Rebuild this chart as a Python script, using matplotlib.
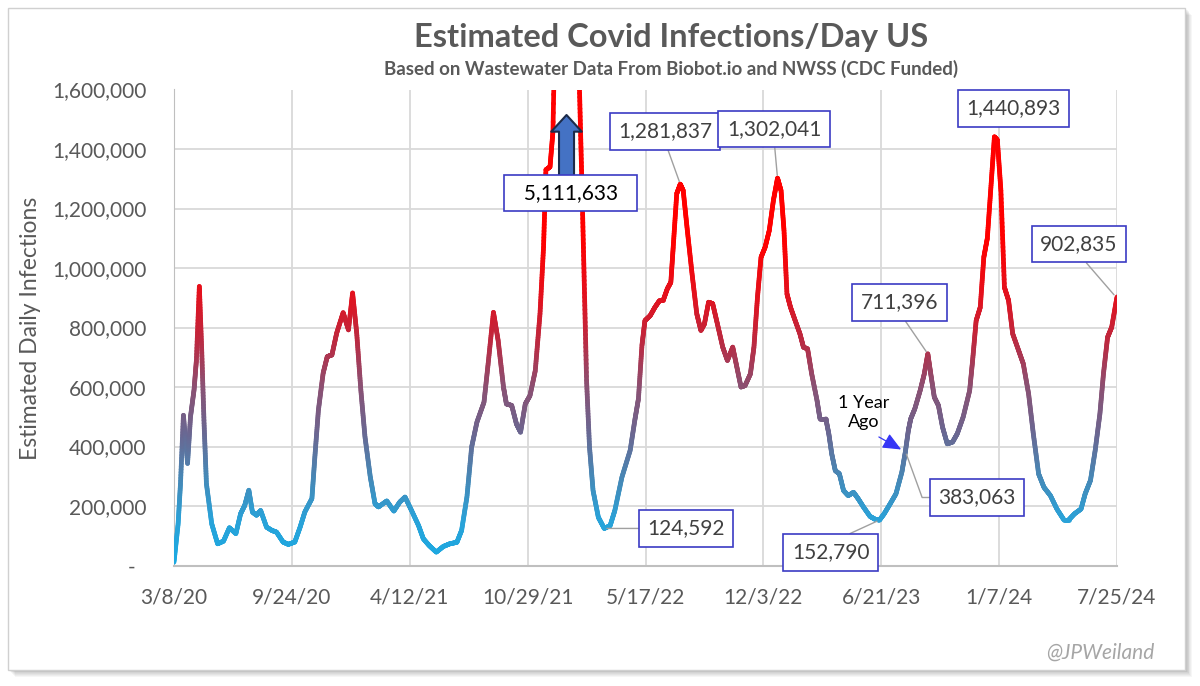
import datetime as dt
import numpy as np
import matplotlib
matplotlib.use('Agg')
import matplotlib.pyplot as plt
import matplotlib.dates as mdates
from matplotlib.collections import LineCollection
from matplotlib.colors import LinearSegmentedColormap, Normalize
from matplotlib.patches import Rectangle
from matplotlib.ticker import FuncFormatter

plt.rcParams['font.family'] = ['Lato', 'DejaVu Sans']

# ---- data ----
start_date = dt.date(2020, 3, 8)

# days since 3/8/20
days = [0, 7, 11, 16, 23, 28, 34, 38, 43, 47, 51, 55, 64, 74, 84, 94, 105, 113, 120, 127,
        133, 140, 147, 157, 166, 174, 185, 194, 205, 214, 222, 234, 239, 245, 253, 260, 268,
        276, 287, 296, 303, 310, 317, 324, 333, 341, 347, 361, 373, 383, 392, 403, 415, 423,
        433, 445, 457, 468, 480, 488, 497, 505, 514, 526, 533, 542, 550, 559, 564, 573, 581,
        588, 596, 604, 613, 621, 627, 631, 638, 643, 650, 658, 666, 674, 681, 688, 692, 696,
        700, 705, 711, 720, 730, 740, 748, 760, 774, 782, 788, 794, 799, 808, 816, 824, 830,
        837, 843, 847, 853, 859, 864, 871, 879, 887, 894, 900, 907, 914, 922, 931, 939, 948,
        955, 962, 969, 978, 984, 990, 996, 1003, 1010, 1017, 1024, 1030, 1035, 1040, 1046,
        1054, 1062, 1068, 1075, 1082, 1091, 1096, 1106, 1111, 1116, 1122, 1129, 1136, 1144,
        1153, 1161, 1170, 1181, 1190, 1197, 1205, 1215, 1225, 1235, 1241, 1246, 1250, 1257,
        1266, 1273, 1279, 1284, 1290, 1297, 1304, 1312, 1321, 1329, 1339, 1350, 1355, 1361,
        1368, 1374, 1380, 1386, 1392, 1397, 1403, 1409, 1416, 1423, 1433, 1441, 1450, 1458,
        1467, 1476, 1487, 1498, 1510, 1518, 1528, 1539, 1546, 1555, 1563, 1571, 1577, 1584,
        1591, 1600]

infections = [11000, 140000, 275000, 505000, 343000, 500000, 590000, 690000, 938000, 725000,
              478000, 275000, 140000, 73000, 82000, 127000, 107000, 174000, 202000, 253000,
              180000, 169000, 185000, 129000, 118000, 112000, 79000, 71000, 79000, 129000,
              180000, 225000, 365000, 522000, 646000, 702000, 708000, 781000, 850000, 792000,
              916000, 781000, 590000, 433000, 298000, 208000, 197000, 217000, 183000, 213000,
              230000, 185000, 134000, 90000, 67000, 45000, 64000, 73000, 78000, 118000, 230000,
              398000, 482000, 549000, 678000, 851000, 756000, 600000, 543000, 538000, 476000,
              448000, 543000, 571000, 655000, 846000, 1070000, 1330000, 1340000, 1460000,
              2200000, 3600000, 5111633, 4300000, 2900000, 1600000, 1290000, 958000, 622000,
              398000, 252000, 162000, 124592, 134000, 185000, 297000, 387000, 490000, 560000,
              740000, 823000, 840000, 868000, 891000, 891000, 930000, 952000, 1070000, 1250000,
              1281837, 1260000, 1126000, 980000, 846000, 790000, 812000, 885000, 880000, 812000,
              734000, 689000, 734000, 667000, 600000, 605000, 644000, 734000, 902000, 1036000,
              1070000, 1126000, 1227000, 1302041, 1260000, 1126000, 913000, 868000, 823000,
              779000, 734000, 728000, 644000, 555000, 493000, 493000, 443000, 375000, 319000,
              308000, 252000, 235000, 246000, 224000, 196000, 165000, 155000, 152790, 174000,
              207000, 241000, 314000, 383063, 454000, 493000, 527000, 588000, 644000, 711396,
              644000, 566000, 538000, 465000, 409000, 415000, 443000, 499000, 588000, 689000,
              823000, 868000, 1036000, 1100000, 1270000, 1440893, 1430000, 1260000, 935000,
              891000, 779000, 723000, 678000, 577000, 443000, 308000, 263000, 235000, 190000,
              153000, 153000, 174000, 190000, 241000, 286000, 387000, 510000, 644000, 767000,
              801000, 902835]

# labelled points: (day, value, label day, label value)
callouts = [
    (859, 1281837, 833, 1458800),
    (1024, 1302041, 1018.7, 1467200),
    (1598, 902835, 1535, 1080700),
    (1279, 711396, 1231.6, 884000),
]

tick_days = [0, 200, 400, 600, 800, 1000, 1200, 1400, 1600]
y_ticks = [0, 200000, 400000, 600000, 800000, 1000000, 1200000, 1400000, 1600000]

title = 'Estimated Covid Infections/Day US'
subtitle = 'Based on Wastewater Data From Biobot.io and NWSS (CDC Funded)'

# ---- figure ----
grey_txt = '#595959'
box_edge = '#3B3BC4'

fig = plt.figure(figsize=(12, 6.86), dpi=100)

# card frame with a soft shadow
for k in range(8, 0, -1):
    fig.patches.append(Rectangle((8 / 1200 + k * 0.0007, 0.0233 - k * 0.0012), 0.981, 0.965,
                                 transform=fig.transFigure, facecolor='#000000',
                                 edgecolor='none', alpha=0.035, zorder=-3))
fig.patches.append(Rectangle((8 / 1200, 0.0233), 0.981, 0.965, transform=fig.transFigure,
                             facecolor='white', edgecolor='#D0D0D0', lw=1, zorder=-2))

ax = fig.add_axes([174 / 1200, 1 - 565.5 / 686, (1117 - 174) / 1200, (565.5 - 89.5) / 686])
ax.set_facecolor('none')
ax.set_zorder(2)

x = np.array([mdates.date2num(start_date + dt.timedelta(days=d)) for d in days])
y = np.array(infections, dtype=float)

# gradient-coloured line: split each segment so colour follows the height
pts = []
for i in range(len(x) - 1):
    t = np.linspace(0, 1, 25)
    xs = x[i] + (x[i + 1] - x[i]) * t
    ys = y[i] + (y[i + 1] - y[i]) * t
    pts.append(np.column_stack([xs, ys]))
pts = np.vstack(pts)
segs = np.stack([pts[:-1], pts[1:]], axis=1)

cmap = LinearSegmentedColormap.from_list('covid', [
    (0.00, '#19AAE3'), (0.14, '#2AA2D8'), (0.27, '#4788B6'), (0.41, '#6C6690'),
    (0.55, '#8C5072'), (0.68, '#BA2B43'), (0.82, '#E2121F'), (1.00, '#FF0000')])
lc = LineCollection(segs, cmap=cmap, norm=Normalize(0, 1100000), linewidth=3.4,
                    capstyle='round', joinstyle='round', zorder=3)
lc.set_array((segs[:, 0, 1] + segs[:, 1, 1]) / 2)
ax.add_collection(lc)

ax.set_xlim(mdates.date2num(start_date), mdates.date2num(start_date + dt.timedelta(days=1600)))
ax.set_ylim(0, 1600000)

tick_dates = [start_date + dt.timedelta(days=d) for d in tick_days]
ax.set_xticks([mdates.date2num(d) for d in tick_dates])
ax.set_xticklabels([f'{d.month}/{d.day}/{d.year % 100}' for d in tick_dates])
ax.set_yticks(y_ticks)
ax.yaxis.set_major_formatter(FuncFormatter(lambda v, p: '-  ' if v == 0 else f'{v:,.0f}'))

ax.tick_params(axis='both', length=0, labelsize=15, colors=grey_txt)
ax.tick_params(axis='y', pad=20)
ax.tick_params(axis='x', pad=16)

ax.grid(True, color='#D9D9D9', lw=1.3)
ax.set_axisbelow(True)
for s in ['top', 'right']:
    ax.spines[s].set_visible(False)
ax.spines['left'].set_color('#BFBFBF')
ax.spines['bottom'].set_color('#BFBFBF')
ax.spines['bottom'].set_linewidth(1.5)


def d2n(d):
    return mdates.date2num(start_date + dt.timedelta(days=d))


box = dict(boxstyle='square,pad=0.4', facecolor='white', edgecolor=box_edge, lw=1.2)
lead = dict(arrowstyle='-', color='#A0A0A0', lw=1.0, shrinkA=0, shrinkB=2, relpos=(0.5, 0))

for dday, val, tday, tval in callouts:
    ax.annotate(f'{val:,}', xy=(d2n(dday), val), xytext=(d2n(tday), tval),
                ha='center', va='center', fontsize=15, color='#404040', bbox=box,
                arrowprops=lead, zorder=6, annotation_clip=False)

ax.annotate('1,440,893', xy=(d2n(1424), 1536100), ha='center', va='center', fontsize=15,
            color='#404040', bbox=box, zorder=6, annotation_clip=False)

ax.annotate('124,592', xy=(d2n(730), 124592), xytext=(d2n(869.4), 124592),
            ha='center', va='center', fontsize=15, color='#404040', bbox=box,
            arrowprops=dict(lead, relpos=(0, 0.5)), zorder=6, annotation_clip=False)

ax.annotate('152,790', xy=(d2n(1197), 152790), xytext=(d2n(1114.5), 43700),
            ha='center', va='center', fontsize=15, color='#404040', bbox=box,
            arrowprops=dict(lead, relpos=(0.5, 1)), zorder=6, annotation_clip=False)

ax.annotate('383,063', xy=(d2n(1241), 383063), xytext=(d2n(1363), 228600),
            ha='center', va='center', fontsize=15, color='#404040', bbox=box,
            arrowprops=dict(lead, relpos=(0, 0.5),
                            connectionstyle='angle,angleA=0,angleB=110,rad=0'),
            zorder=6, annotation_clip=False)

# off-scale omicron peak
ax.annotate('', xy=(d2n(666), 1514300), xytext=(d2n(666), 1305900),
            arrowprops=dict(arrowstyle='simple,head_length=0.6,head_width=1.1,tail_width=0.54',
                            mutation_scale=20, facecolor='#4472C4', edgecolor='#1C2B4A',
                            lw=1.5, shrinkA=0, shrinkB=0), zorder=7, annotation_clip=False)
ax.annotate('  5,111,633  ', xy=(d2n(673.5), 1252000), ha='center', va='center',
            fontsize=15, color='black', bbox=box, zorder=8, annotation_clip=False)

# one year ago marker
ax.text(d2n(1170.5), 514300, '1 Year\nAgo', ha='center', va='center', fontsize=13,
        color='black', linespacing=1.2, zorder=6)
ax.annotate('', xy=(d2n(1240), 383063), xytext=(d2n(1196), 432000),
            arrowprops=dict(arrowstyle='-|>,head_length=0.8,head_width=0.35',
                            mutation_scale=14, color='#3636F5', lw=0.9,
                            shrinkA=0, shrinkB=3), zorder=6)

fig.text(671 / 1200, 1 - 37 / 686, title, ha='center', va='center', fontsize=23.5,
         fontweight='bold', color=grey_txt)
fig.text(671 / 1200, 1 - 69 / 686, subtitle, ha='center', va='center', fontsize=13.5,
         fontweight='bold', color=grey_txt)
fig.text(31 / 1200, 1 - 328 / 686, 'Estimated Daily Infections', rotation=90,
         ha='center', va='center', fontsize=16.5, color=grey_txt)
fig.text(1100 / 1200, 1 - 653 / 686, '@JPWeiland', ha='center', va='center',
         fontsize=15, style='italic', color='#A6A6A6')

fig.savefig('out.png', dpi=100, facecolor='white')
